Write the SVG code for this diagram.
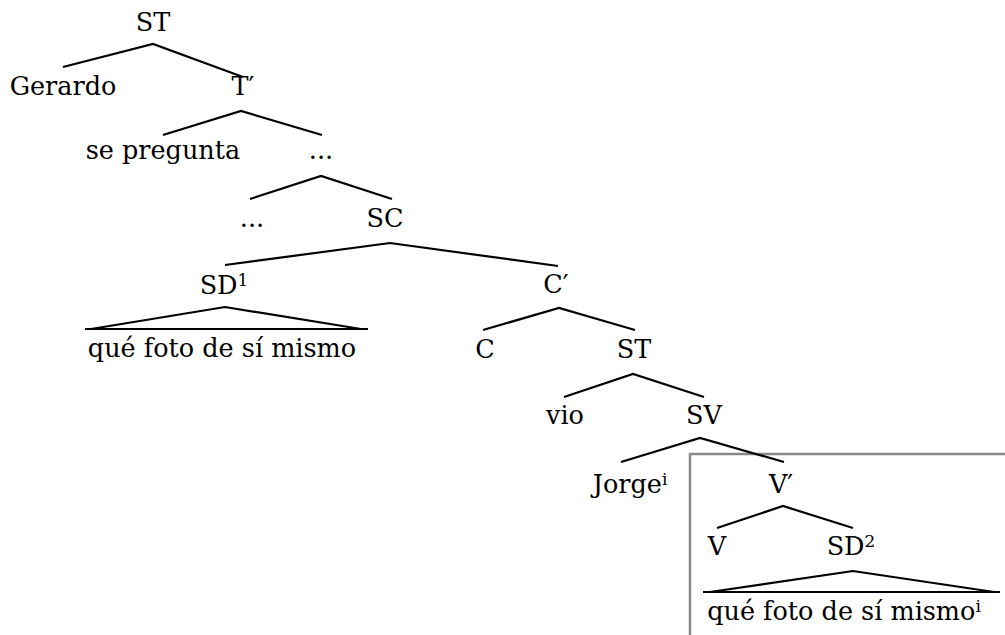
<svg xmlns="http://www.w3.org/2000/svg" width="1005" height="635" viewBox="0 0 1005 635">
<style>
text{font-family:"DejaVu Serif","Liberation Serif",serif;font-size:25.5px;fill:#000;text-anchor:middle}
.sup{font-size:17px}
line,polyline{stroke:#000;stroke-width:2.2;fill:none;stroke-linecap:butt}
.box{fill:none;stroke:#888;stroke-width:2.5}
</style>
<rect width="1005" height="635" fill="#fff"/>
<rect class="box" x="690" y="454" width="330" height="200"/>
<g id="connectors">
<polyline points="63,67 153,44 243,77"/>
<polyline points="163,135 241,111 322,135"/>
<polyline points="250,199 321,176 392,199"/>
<polyline points="225,265 390,243 558,266"/>
<polyline points="483,330 559,308 635,330"/>
<polyline points="564,397 633,374 704,397"/>
<polyline points="621,462 700,438 784,462"/>
<polyline points="717,528 783,506 853,528"/>
<polyline points="91,329 225,307 361,329"/>
<line x1="85" y1="329" x2="368" y2="329"/>
<polyline points="710,592 853,571 994,592"/>
<line x1="703" y1="592" x2="1000" y2="592"/>
</g>
<g id="n-st1"><text x="153" y="31">ST</text></g>
<g id="n-gerardo"><text x="63" y="95">Gerardo</text></g>
<g id="n-tbar"><text x="243" y="95">T′</text></g>
<g id="n-sepregunta"><text x="163" y="159">se pregunta</text></g>
<g id="n-dots1"><text x="321" y="159">...</text></g>
<g id="n-dots2"><text x="252" y="227">...</text></g>
<g id="n-sc"><text x="385" y="227">SC</text></g>
<g id="n-sd1"><text x="224" y="294">SD<tspan class="sup" dy="-8">1</tspan></text></g>
<g id="n-sd1-text"><text x="222" y="357">qué foto de sí mismo</text></g>
<g id="n-cbar"><text x="556" y="293">C′</text></g>
<g id="n-c"><text x="485" y="358">C</text></g>
<g id="n-st2"><text x="634" y="358">ST</text></g>
<g id="n-vio"><text x="565" y="424">vio</text></g>
<g id="n-sv"><text x="704" y="424">SV</text></g>
<g id="n-jorge"><text x="630" y="493">Jorge<tspan class="sup" dy="-8">i</tspan></text></g>
<g id="n-vbar"><text x="781" y="493">V′</text></g>
<g id="n-v"><text x="717" y="555">V</text></g>
<g id="n-sd2"><text x="851" y="555">SD<tspan class="sup" dy="-8">2</tspan></text></g>
<g id="n-sd2-text"><text x="844" y="620">qué foto de sí mismo<tspan class="sup" dy="-8">i</tspan></text></g>
</svg>
